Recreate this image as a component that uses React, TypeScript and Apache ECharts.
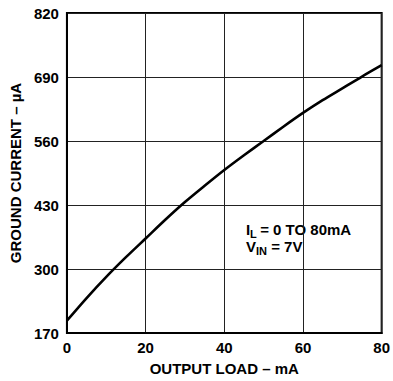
import React, { useEffect, useRef } from "react";
import * as echarts from "echarts";

const loadMA = [0, 5, 10, 15, 20, 25, 30, 35, 40, 45, 50, 55, 60, 65, 70, 75, 80];
const groundCurrentUA = [195, 241, 284, 324, 362, 400, 436, 469, 501, 531, 560, 589, 617, 643, 667, 691, 714];
const yMin = 170;
const yMax = 820;
const yStep = 130;
const xTicks = [0, 20, 40, 60, 80];

const FONT = "'Liberation Sans', Arial, Helvetica, sans-serif";

export default function App() {
  const ref = useRef<HTMLDivElement>(null);
  useEffect(() => {
    if (!ref.current) return;
    const chart = echarts.init(ref.current, undefined, { renderer: "svg" });
    const data = loadMA.map((x, i) => [x, groundCurrentUA[i] - yMin]);
    const txt = (text: string, x: number, y: number, size: number) => ({
      type: "text",
      x,
      y,
      style: { text, fill: "#000", font: `bold ${size}px ${FONT}`, textVerticalAlign: "top" },
    });
    chart.setOption({
      animation: false,
      backgroundColor: "#fff",
      grid: {
        left: 63,
        right: 9,
        top: 13,
        bottom: 48,
        show: true,
        borderColor: "#000",
        borderWidth: 2,
        backgroundColor: "transparent",
      },
      xAxis: {
        type: "value",
        min: xTicks[0],
        max: xTicks[xTicks.length - 1],
        interval: 20,
        name: "OUTPUT LOAD – mA",
        nameLocation: "middle",
        nameGap: 28,
        nameTextStyle: { fontFamily: FONT, fontWeight: "bold", fontSize: 15, color: "#000" },
        axisLine: { show: true, lineStyle: { color: "#000", width: 2 } },
        axisTick: { show: false },
        axisLabel: { fontFamily: FONT, fontWeight: "bold", fontSize: 15, color: "#000", margin: 7 },
        splitLine: { show: true, lineStyle: { color: "#222", width: 1 } },
      },
      yAxis: {
        type: "value",
        min: 0,
        max: yMax - yMin,
        interval: yStep,
        name: "GROUND CURRENT – µA",
        nameLocation: "middle",
        nameGap: 40,
        nameTextStyle: { fontFamily: FONT, fontWeight: "bold", fontSize: 15, color: "#000" },
        axisLine: { show: true, lineStyle: { color: "#000", width: 2 } },
        axisTick: { show: false },
        axisLabel: {
          fontFamily: FONT,
          fontWeight: "bold",
          fontSize: 15,
          color: "#000",
          margin: 8,
          formatter: (v: number) => String(v + yMin),
        },
        splitLine: { show: true, lineStyle: { color: "#222", width: 1 } },
      },
      graphic: [
        {
          type: "group",
          left: 240,
          top: 215,
          children: [
            { type: "rect", shape: { x: 0, y: 0, width: 122, height: 47 }, style: { fill: "#fff" } },
            txt("I", 6, 7, 15),
            txt("L", 10, 13, 11),
            txt(" = 0 TO 80mA", 16, 7, 15),
            txt("V", 6, 24, 15),
            txt("IN", 16, 30, 11),
            txt(" = 7V", 27, 24, 15),
          ],
        },
      ],
      series: [
        {
          type: "line",
          data,
          smooth: 0.3,
          showSymbol: false,
          lineStyle: { color: "#000", width: 2.6 },
          z: 1,
        },
      ],
    });
    return () => chart.dispose();
  }, []);
  return <div ref={ref} style={{ width: 393, height: 381, position: "absolute", left: 0, top: 0 }} />;
}
